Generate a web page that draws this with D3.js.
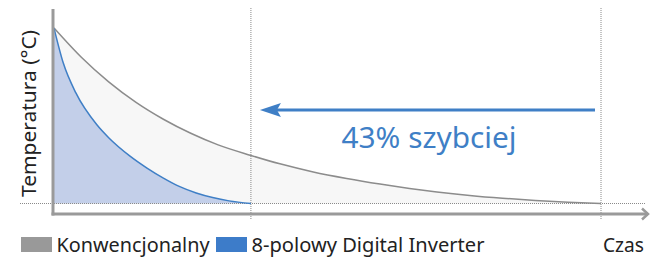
<!DOCTYPE html>
<html>
<head>
<meta charset="utf-8">
<script src="https://cdn.jsdelivr.net/npm/d3@7.9.0/dist/d3.min.js"></script>
<style>
  body { margin: 0; background: #fff; }
  svg { display: block; font-family: "Noto Sans", "Open Sans", sans-serif; }
</style>
</head>
<body>
<svg id="chart"></svg>
<script>
// time in arbitrary units (0..100), temperature as % of start
const grayTime = [0, 5, 10, 15, 20, 25, 30, 36, 41.3, 47.4, 53.5, 59.6, 65, 70, 76, 82, 88, 94, 100];
const grayTemp = [100, 83.3, 69.3, 57.6, 48.0, 40.0, 33.4, 27.4, 22.6, 18.0, 14.3, 11.1, 8.6, 6.6, 4.6, 3.0, 1.7, 0.7, 0];
const blueTime = [0, 1.7, 4, 7.8, 10, 13.9, 17, 20, 23, 26, 29, 32, 36];
const blueTemp = [100, 80, 63, 45, 37.5, 27, 20.2, 14.5, 9.6, 6.0, 3.4, 1.5, 0];
const legendLabels = ["Konwencjonalny", "8-polowy Digital Inverter"];
const yLabel = "Temperatura (°C)";
const xLabel = "Czas";
const callout = "43% szybciej";

const svgWidth = 652, svgHeight = 259;
const svg = d3.select("#chart").attr("width", svgWidth).attr("height", svgHeight);

const x = d3.scaleLinear().domain([0, 100]).range([54, 601]);
const y = d3.scaleLinear().domain([0, 100]).range([203.5, 28]);

const gray = grayTime.map((t, i) => ({ t: t, v: grayTemp[i] }));
const blue = blueTime.map((t, i) => ({ t: t, v: blueTemp[i] }));

const area = d3.area().x(d => x(d.t)).y0(y(0)).y1(d => y(d.v)).curve(d3.curveMonotoneX);
const line = d3.line().x(d => x(d.t)).y(d => y(d.v)).curve(d3.curveMonotoneX);

// fills
svg.append("path").datum(gray).attr("d", area).attr("fill", "#f7f7f7");
svg.append("path").datum(blue).attr("d", area).attr("fill", "#c3cfe9");

// dotted guides
const blueEnd = d3.max(blueTime), grayEnd = d3.max(grayTime);
svg.append("line")
    .attr("x1", 20).attr("x2", 646)
    .attr("y1", y(0)).attr("y2", y(0))
    .attr("stroke", "#8a8a8a").attr("stroke-width", 1).attr("stroke-dasharray", "1,1");
[blueEnd, grayEnd].forEach(t => {
    svg.append("line")
        .attr("x1", x(t)).attr("x2", x(t))
        .attr("y1", 8).attr("y2", 219)
        .attr("stroke", "#8a8a8a").attr("stroke-width", 1).attr("stroke-dasharray", "1,1");
});

// curves
svg.append("path").datum(gray).attr("d", line)
    .attr("fill", "none").attr("stroke", "#8c8c8c").attr("stroke-width", 1.5);
svg.append("path").datum(blue).attr("d", line)
    .attr("fill", "none").attr("stroke", "#3f7fc6").attr("stroke-width", 1.5);

// axes
svg.append("line")
    .attr("x1", 53).attr("x2", 53).attr("y1", 9).attr("y2", 215.5)
    .attr("stroke", "#9a9a9a").attr("stroke-width", 3);
svg.append("line")
    .attr("x1", 51.5).attr("x2", 648).attr("y1", 214).attr("y2", 214)
    .attr("stroke", "#9a9a9a").attr("stroke-width", 3);
svg.append("path")
    .attr("d", "M642,208.5 L648,214 L642,219.5")
    .attr("fill", "none").attr("stroke", "#9a9a9a").attr("stroke-width", 2.5);

// arrow "faster"
const arrowY = 110;
svg.append("line")
    .attr("x1", x(grayEnd) - 6).attr("x2", x(blueEnd) + 25)
    .attr("y1", arrowY).attr("y2", arrowY)
    .attr("stroke", "#3f7fc6").attr("stroke-width", 3);
svg.append("path")
    .attr("d", `M${x(blueEnd) + 9},${arrowY} L${x(blueEnd) + 30},${arrowY - 7} L${x(blueEnd) + 26},${arrowY} L${x(blueEnd) + 30},${arrowY + 7} Z`)
    .attr("fill", "#3f7fc6");

svg.append("text")
    .attr("x", 429).attr("y", 148)
    .attr("text-anchor", "middle")
    .attr("fill", "#3f7fc6")
    .style("font-size", "29px")
    .attr("textLength", 175).attr("lengthAdjust", "spacingAndGlyphs")
    .text(callout);

// y label
svg.append("text")
    .attr("transform", "translate(36,113.5) rotate(-90)")
    .attr("text-anchor", "middle")
    .attr("fill", "#222")
    .style("font-size", "20px")
    .attr("textLength", 167).attr("lengthAdjust", "spacingAndGlyphs")
    .text(yLabel);

// x label
svg.append("text")
    .attr("x", 603).attr("y", 252)
    .attr("fill", "#222")
    .style("font-size", "20px")
    .attr("textLength", 41).attr("lengthAdjust", "spacingAndGlyphs")
    .text(xLabel);

// legend
const legendItems = [
    { label: legendLabels[0], color: "#999999", x: 21, w: 153 },
    { label: legendLabels[1], color: "#3d7cc9", x: 216, w: 233 }
];
legendItems.forEach(d => {
    svg.append("rect")
        .attr("x", d.x).attr("y", 237)
        .attr("width", 31).attr("height", 15)
        .attr("fill", d.color);
    svg.append("text")
        .attr("x", d.x + 35.5).attr("y", 252)
        .attr("fill", "#222")
        .style("font-size", "20px")
        .attr("textLength", d.w).attr("lengthAdjust", "spacingAndGlyphs")
        .text(d.label);
});
</script>
</body>
</html>
